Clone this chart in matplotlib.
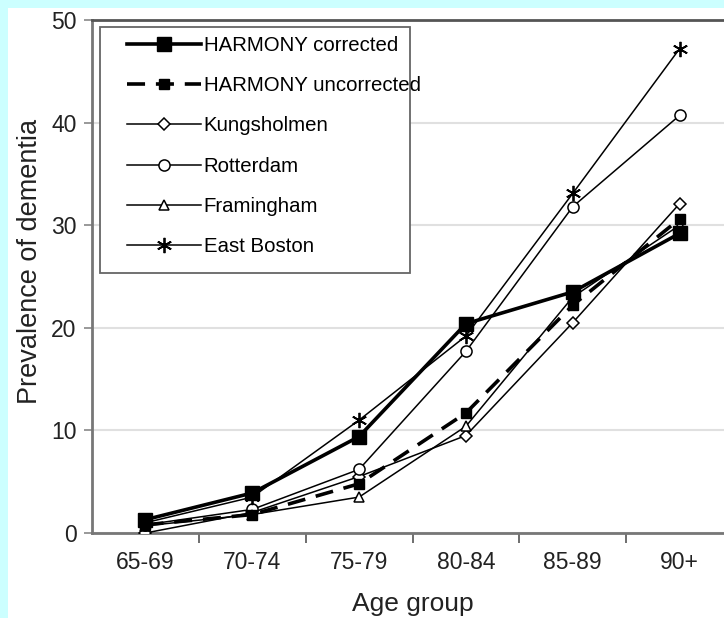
import matplotlib
matplotlib.use("Agg")
import matplotlib.pyplot as plt
from matplotlib.patches import Rectangle
import numpy as np

plt.rcParams['font.family'] = ['Liberation Sans', 'DejaVu Sans']

age_groups = ["65-69", "70-74", "75-79", "80-84", "85-89", "90+"]
harmony_corrected = [1.3, 3.9, 9.4, 20.4, 23.5, 29.2]
harmony_uncorrected = [0.8, 1.8, 4.8, 11.7, 22.2, 30.6]
kungsholmen = [0.0, 2.0, 5.5, 9.5, 20.5, 32.1]
rotterdam = [0.8, 2.3, 6.2, 17.7, 31.8, 40.7]
framingham = [0.7, 1.8, 3.5, 10.4, 23.0, 30.0]
east_boston = [1.0, 3.5, 11.0, 19.2, 33.1, 47.2]

W, H = 724, 618
AX_L, AX_B, AX_W, AX_H = 92, 85, 641, 513
fig = plt.figure(figsize=(W/100, H/100), dpi=100)
fig.patch.set_facecolor('#ccffff')
fig.patches.append(Rectangle((8/W, 0), 1, (H-8)/H, transform=fig.transFigure,
                             facecolor='white', edgecolor='none', zorder=-10))

ax = fig.add_axes([AX_L/W, AX_B/H, AX_W/W, AX_H/H])
ax.set_facecolor('white')
x = np.arange(len(age_groups))

def px2ax(px, py):
    return ((px - AX_L) / AX_W, ((H - py) - AX_B) / AX_H)

ax.plot(x, harmony_corrected, color='black', lw=2.6, marker='s', ms=10,
        mfc='black', mec='black', label='HARMONY corrected', zorder=5)
ax.plot(x, harmony_uncorrected, color='black', lw=2.6, ls=(0, (5, 3)), marker='s', ms=7.5,
        mfc='black', mec='black', label='HARMONY uncorrected', zorder=5)
ax.plot(x, kungsholmen, color='black', lw=1.1, marker='D', ms=6.5,
        mfc='white', mec='black', mew=1.1, label='Kungsholmen', zorder=4)
ax.plot(x, rotterdam, color='black', lw=1.1, marker='o', ms=8,
        mfc='white', mec='black', mew=1.1, label='Rotterdam', zorder=4)
ax.plot(x, framingham, color='black', lw=1.1, marker='^', ms=7,
        mfc='white', mec='black', mew=1.1, label='Framingham', zorder=4)
ax.plot(x, east_boston, color='black', lw=1.1, marker=(6, 2, 0), ms=11,
        mfc='black', mec='black', mew=1.3, label='East Boston', zorder=4)

ax.set_xlim(-0.5, 5.5)
ax.set_ylim(0, 50)
ax.set_yticks([0, 10, 20, 30, 40, 50])
ax.set_xticks(np.arange(0.5, 5.5, 1.0))
ax.set_xticklabels([])
ax.set_xticks(x, minor=True)
ax.set_xticklabels(age_groups, minor=True, fontsize=16.5, color='#222222')
ax.tick_params(axis='x', which='major', length=7, width=1.2, color='#555555', direction='out')
ax.tick_params(axis='x', which='minor', length=0, pad=13)
ax.tick_params(axis='y', length=6, width=1.2, color='#888888', labelsize=16.5,
               labelcolor='#222222', pad=5)

ax.grid(axis='y', color='#e0e0e0', lw=1.5)
ax.set_axisbelow(True)
for s in ['left', 'bottom']:
    ax.spines[s].set_color('#777777')
    ax.spines[s].set_linewidth(2)
ax.spines['top'].set_color('#555555')
ax.spines['top'].set_linewidth(2)
ax.spines['right'].set_visible(False)

ax.set_xlabel('Age group', fontsize=19, color='#222222', labelpad=13)
ax.set_ylabel('Prevalence of dementia', fontsize=19.5, color='#222222', labelpad=6)
ax.yaxis.label.set_y(0.53)

# legend frame drawn manually
x0, y0 = px2ax(100, 273)
x1, y1 = px2ax(410, 27)
ax.add_patch(Rectangle((x0, y0), x1 - x0, y1 - y0, transform=ax.transAxes,
                       facecolor='white', edgecolor='#666666', lw=1.3, zorder=6))
lx, ly = px2ax(127, 36)
leg = ax.legend(loc='upper left', bbox_to_anchor=(lx, ly), fontsize=14.7,
                handlelength=3.6, handletextpad=0.15, labelspacing=1.04,
                borderpad=0, frameon=False, borderaxespad=0)
leg.set_zorder(7)

fig.savefig('out.png', dpi=100, facecolor=fig.get_facecolor())
